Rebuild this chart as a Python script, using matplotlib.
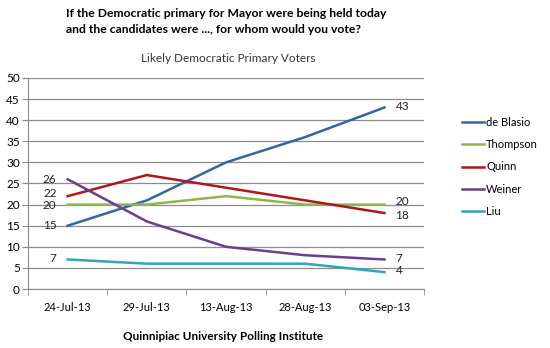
import matplotlib
matplotlib.use('Agg')
import matplotlib.pyplot as plt

# --- Data ---
dates = ['24-Jul-13', '29-Jul-13', '13-Aug-13', '28-Aug-13', '03-Sep-13']
candidates = ['de Blasio', 'Thompson', 'Quinn', 'Weiner', 'Liu']
de_blasio = [15, 21, 30, 36, 43]
thompson  = [20, 20, 22, 20, 20]
quinn     = [22, 27, 24, 21, 18]
weiner    = [26, 16, 10, 8, 7]
liu       = [7, 6, 6, 6, 4]

series = [de_blasio, thompson, quinn, weiner, liu]
colors = ['#3465a4', '#8cb84a', '#b01818', '#6a3d8f', '#31a3bd']
# label offsets (points) for first / last values
first_dy = [0, -1, 2, 0, 1]
last_dy  = [1, 2, -2, 1, 1]

plt.rcParams['font.family'] = ['Lato', 'DejaVu Sans']

fig = plt.figure(figsize=(5.5, 3.48), dpi=100)
ax = fig.add_axes([0.051, 0.1695, 0.72, 0.6065])

x = list(range(len(dates)))
for name, vals, c, fdy, ldy in zip(candidates, series, colors, first_dy, last_dy):
    ax.plot(x, vals, color=c, linewidth=1.8, label=name)
    ax.annotate(str(vals[0]), (x[0], vals[0]), xytext=(-8, fdy), textcoords='offset points',
                ha='right', va='center', fontsize=8.5, color='#222222')
    ax.annotate(str(vals[-1]), (x[-1], vals[-1]), xytext=(8, ldy), textcoords='offset points',
                ha='left', va='center', fontsize=8.5, color='#222222')

ax.set_xlim(-0.5, len(dates) - 0.5)
ax.set_ylim(0, 50)
ax.set_yticks(range(0, 51, 5))
ax.set_xticks(x)
ax.set_xticklabels(dates)
ax.set_xticks([i - 0.5 for i in range(len(dates) + 1)], minor=True)
ax.tick_params(axis='x', which='major', length=0, labelsize=8, pad=9)
ax.tick_params(axis='x', which='minor', length=4, color='#888888')
ax.tick_params(axis='y', length=4, color='#888888', labelsize=8.5, pad=2)
ax.grid(axis='y', color='#8c8c8c', linewidth=0.9)
ax.set_axisbelow(True)
for s in ['top', 'right']:
    ax.spines[s].set_visible(False)
for s in ['left', 'bottom']:
    ax.spines[s].set_color('#888888')

ax.legend(loc='upper left', bbox_to_anchor=(1.085, 0.835), frameon=False, fontsize=8,
          handlelength=2.0, handletextpad=0.15, labelspacing=1.0, borderaxespad=0)

fig.text(0.12, 0.962, 'If the Democratic primary for Mayor were being held today',
         fontsize=8.7, fontweight='bold', ha='left', va='center')
fig.text(0.12, 0.915, 'and the candidates were ..., for whom would you vote?',
         fontsize=8.7, fontweight='bold', ha='left', va='center')
fig.text(0.415, 0.833, 'Likely Democratic Primary Voters', fontsize=8.5, ha='center', va='center',
         color='#333333')
fig.text(0.405, 0.032, 'Quinnipiac University Polling Institute', fontsize=8.5,
         fontweight='bold', ha='center', va='center')

fig.savefig('out.png', dpi=100)
